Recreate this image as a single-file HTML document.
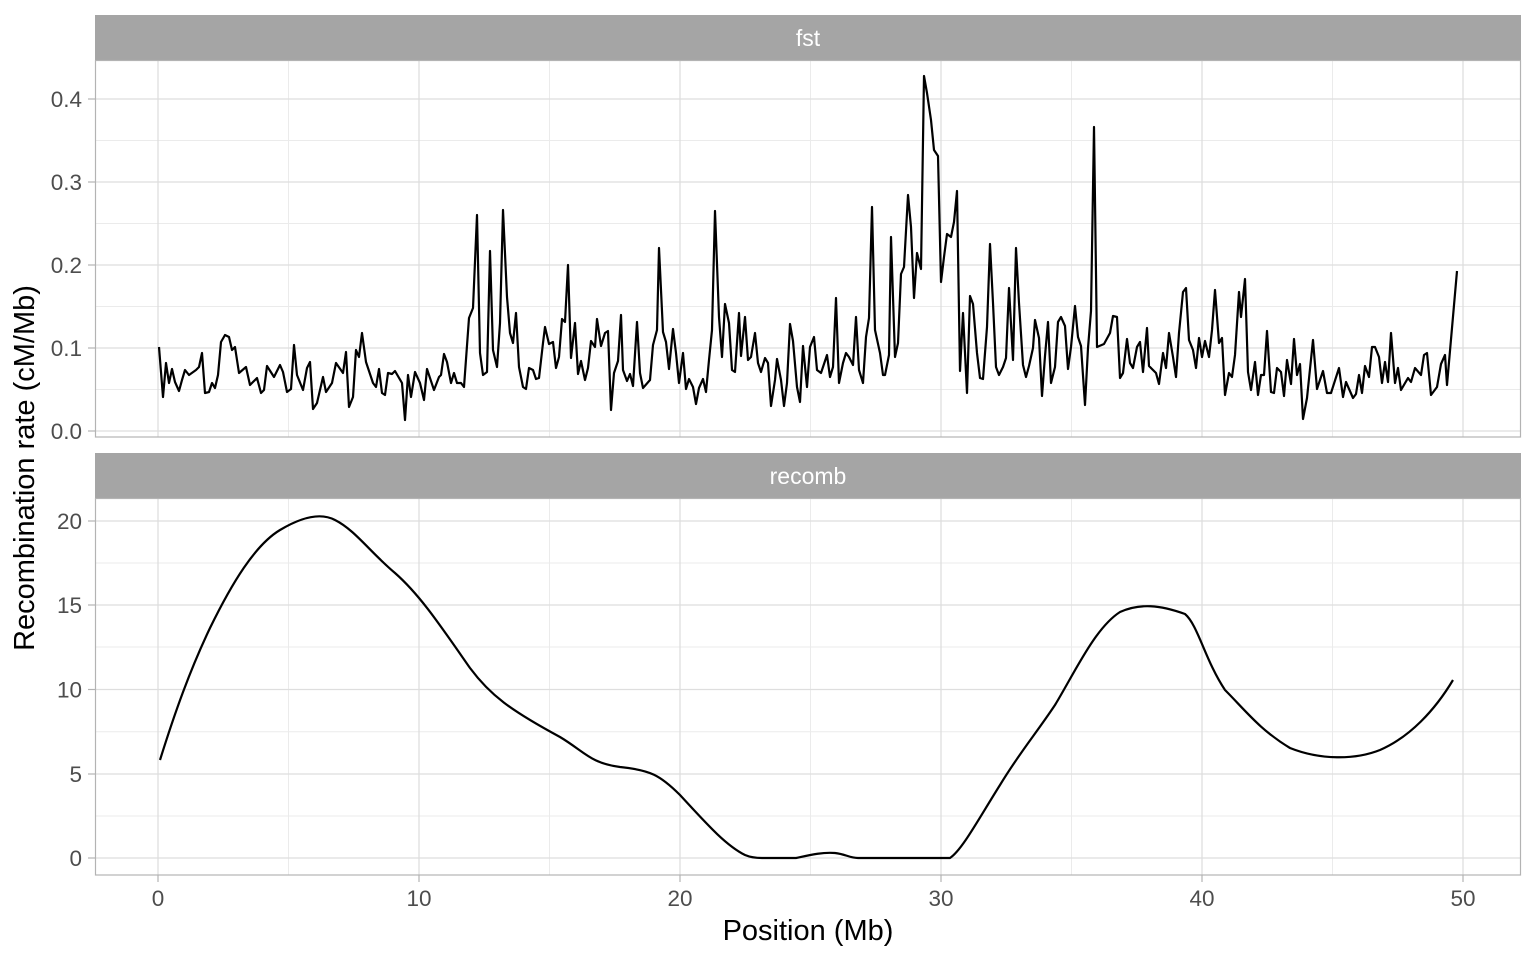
<!DOCTYPE html>
<html><head><style>html,body{margin:0;padding:0;background:#fff;}svg{display:block;font-family:"Liberation Sans",Arial,sans-serif;}</style></head>
<body>
<svg width="1536" height="960" viewBox="0 0 1536 960" xmlns="http://www.w3.org/2000/svg">
<rect width="1536" height="960" fill="#fff"/>
<rect x="95" y="15" width="1426" height="45" fill="#a5a5a5"/>
<text x="808" y="46" font-size="23" fill="#fff" text-anchor="middle">fst</text>
<rect x="95" y="453" width="1426" height="45" fill="#a5a5a5"/>
<text x="808" y="484" font-size="23" fill="#fff" text-anchor="middle">recomb</text>
<g stroke="#ebebeb" stroke-width="1">
<line x1="95" x2="1521" y1="389.5" y2="389.5"/><line x1="95" x2="1521" y1="306.5" y2="306.5"/><line x1="95" x2="1521" y1="223.5" y2="223.5"/><line x1="95" x2="1521" y1="140.5" y2="140.5"/>
<line y1="60" y2="437" x1="288.5" x2="288.5"/><line y1="60" y2="437" x1="549.5" x2="549.5"/><line y1="60" y2="437" x1="810.5" x2="810.5"/><line y1="60" y2="437" x1="1071.5" x2="1071.5"/><line y1="60" y2="437" x1="1332.5" x2="1332.5"/>
<line x1="95" x2="1521" y1="816" y2="816"/><line x1="95" x2="1521" y1="731.75" y2="731.75"/><line x1="95" x2="1521" y1="647" y2="647"/><line x1="95" x2="1521" y1="563" y2="563"/>
<line y1="498" y2="875" x1="288.5" x2="288.5"/><line y1="498" y2="875" x1="549.5" x2="549.5"/><line y1="498" y2="875" x1="810.5" x2="810.5"/><line y1="498" y2="875" x1="1071.5" x2="1071.5"/><line y1="498" y2="875" x1="1332.5" x2="1332.5"/>
</g>
<g stroke="#dedede" stroke-width="1.3">
<line x1="95" x2="1521" y1="431" y2="431"/><line x1="95" x2="1521" y1="348" y2="348"/><line x1="95" x2="1521" y1="265" y2="265"/><line x1="95" x2="1521" y1="182" y2="182"/><line x1="95" x2="1521" y1="99" y2="99"/>
<line y1="60" y2="437" x1="158" x2="158"/><line y1="60" y2="437" x1="419" x2="419"/><line y1="60" y2="437" x1="680" x2="680"/><line y1="60" y2="437" x1="941" x2="941"/><line y1="60" y2="437" x1="1202" x2="1202"/><line y1="60" y2="437" x1="1463" x2="1463"/>
<line x1="95" x2="1521" y1="858" y2="858"/><line x1="95" x2="1521" y1="774" y2="774"/><line x1="95" x2="1521" y1="689.5" y2="689.5"/><line x1="95" x2="1521" y1="605" y2="605"/><line x1="95" x2="1521" y1="521" y2="521"/>
<line y1="498" y2="875" x1="158" x2="158"/><line y1="498" y2="875" x1="419" x2="419"/><line y1="498" y2="875" x1="680" x2="680"/><line y1="498" y2="875" x1="941" x2="941"/><line y1="498" y2="875" x1="1202" x2="1202"/><line y1="498" y2="875" x1="1463" x2="1463"/>
</g>
<rect x="95.5" y="60.5" width="1425" height="376.5" fill="none" stroke="#b3b3b3" stroke-width="1.2"/>
<rect x="95.5" y="498.5" width="1425" height="376.5" fill="none" stroke="#b3b3b3" stroke-width="1.2"/>
<g stroke="#b3b3b3" stroke-width="1.2">
<line x1="88" x2="95" y1="431" y2="431"/><line x1="88" x2="95" y1="348" y2="348"/><line x1="88" x2="95" y1="265" y2="265"/><line x1="88" x2="95" y1="182" y2="182"/><line x1="88" x2="95" y1="99" y2="99"/>
<line x1="88" x2="95" y1="858" y2="858"/><line x1="88" x2="95" y1="774" y2="774"/><line x1="88" x2="95" y1="689.5" y2="689.5"/><line x1="88" x2="95" y1="605" y2="605"/><line x1="88" x2="95" y1="521" y2="521"/>
<line y1="875" y2="882" x1="158" x2="158"/><line y1="875" y2="882" x1="419" x2="419"/><line y1="875" y2="882" x1="680" x2="680"/><line y1="875" y2="882" x1="941" x2="941"/><line y1="875" y2="882" x1="1202" x2="1202"/><line y1="875" y2="882" x1="1463" x2="1463"/>
</g>
<g font-size="22.5" fill="#4d4d4d" text-anchor="end">
<text x="82" y="439">0.0</text><text x="82" y="356">0.1</text><text x="82" y="273">0.2</text><text x="82" y="190">0.3</text><text x="82" y="107">0.4</text>
<text x="82" y="866">0</text><text x="82" y="782">5</text><text x="82" y="697.5">10</text><text x="82" y="613">15</text><text x="82" y="529">20</text>
</g>
<g font-size="22.5" fill="#4d4d4d" text-anchor="middle">
<text x="158" y="906">0</text><text x="419" y="906">10</text><text x="680" y="906">20</text><text x="941" y="906">30</text><text x="1202" y="906">40</text><text x="1463" y="906">50</text>
</g>
<text x="808" y="940" font-size="29" fill="#000" text-anchor="middle">Position (Mb)</text>
<text transform="translate(34,468) rotate(-90)" font-size="29" fill="#000" text-anchor="middle">Recombination rate (cM/Mb)</text>
<polyline fill="none" stroke="#000" stroke-width="2.2" stroke-linejoin="round" points="159,347 163,397 166,363 169,383 172,369 175,382 179,391 182,380 185,370 189,375 196,370 199,367 202,353 205,393 209,392 212,383 215,388 218,375 221,342 225,335 229,337 232,350 235,347 239,373 246,367 250,385 257,378 261,393 264,390 267,366 274,377 280,365 283,372 287,392 291,389 294,345 297,375 303,390 307,368 310,362 313,409 317,403 323,377 326,392 332,383 336,363 343,373 346,352 349,407 353,397 356,350 359,357 362,333 366,362 373,383 376,387 379,369 382,393 385,395 388,373 392,374 395,371 402,383 405,420 408,375 411,397 415,372 420,383 424,400 427,369 434,390 439,377 441,375 444,354 447,362 451,383 454,373 457,383 461,383 464,387 469,318 473,308 477,215 480,353 483,375 487,372 490,251 493,350 497,367 500,323 503,210 507,297 510,333 513,343 516,313 519,367 523,387 526,389 529,368 533,370 536,379 539,378 543,343 545,327 549,344 553,342 556,368 559,357 562,319 565,322 568,265 571,358 575,323 578,374 581,361 585,380 588,368 591,341 595,347 597,319 601,346 605,333 608,331 611,410 614,373 618,361 621,315 623,370 627,381 630,374 633,386 637,322 640,373 643,388 650,380 653,345 657,330 659,248 663,332 666,342 669,369 673,329 676,353 679,383 683,353 686,389 689,379 693,387 696,404 699,388 703,379 706,392 709,360 712,330 715,211 719,317 722,357 725,304 729,323 732,370 735,372 739,313 741,356 745,317 748,360 751,357 755,333 758,363 761,372 765,358 768,363 771,406 775,380 777,359 781,380 784,406 787,383 790,324 793,341 797,387 800,402 803,346 807,387 810,347 814,337 817,370 821,373 823,367 827,355 830,377 833,367 836,298 839,383 843,363 846,353 849,357 853,365 856,317 859,370 863,383 866,337 869,318 872,207 875,330 880,353 883,375 885,375 889,355 891,237 895,357 898,343 901,274 904,267 908,195 911,227 914,298 917,253 921,269 924,76 927,93 931,120 934,150 938,156 941,282 944,257 947,234 951,237 954,222 957,191 960,371 963,313 967,393 970,296 973,304 977,353 980,378 983,379 987,327 990,244 993,303 996,367 999,375 1003,367 1006,358 1009,288 1013,360 1016,248 1019,303 1023,365 1026,377 1029,366 1033,348 1035,320 1039,338 1042,396 1045,356 1048,322 1051,383 1055,367 1058,322 1061,317 1065,326 1068,369 1071,347 1075,306 1078,337 1081,346 1085,405 1088,348 1091,311 1094,127 1097,347 1104,344 1110,333 1113,316 1117,317 1120,378 1123,373 1127,339 1130,363 1133,368 1137,347 1140,342 1143,372 1147,328 1149,366 1156,373 1159,384 1163,353 1166,368 1169,333 1173,357 1176,377 1179,333 1183,292 1186,288 1189,340 1193,350 1196,368 1199,338 1202,357 1205,341 1209,357 1212,330 1215,290 1219,343 1222,338 1225,395 1229,373 1232,377 1235,355 1239,292 1241,317 1245,279 1248,372 1251,390 1255,362 1258,395 1261,375 1264,375 1267,331 1271,392 1274,393 1277,368 1281,372 1284,396 1287,360 1291,384 1294,339 1297,375 1300,364 1303,419 1307,398 1313,340 1317,389 1323,371 1327,393 1331,393 1339,368 1343,397 1346,382 1353,398 1356,394 1359,375 1362,393 1365,366 1369,377 1372,347 1375,347 1379,357 1382,383 1385,362 1388,382 1391,333 1395,383 1398,368 1401,390 1408,378 1411,382 1415,368 1421,375 1424,355 1427,353 1431,395 1437,387 1441,364 1445,355 1447,385 1457,271"/>
<path fill="none" stroke="#000" stroke-width="2.2" stroke-linejoin="round" d="M160,760 C175,712 190,670 210,628 C232,583 255,545 280,530 C300,518 320,512 335,520 C355,530 370,552 395,573 C420,595 440,625 470,668 C490,695 510,710 560,737 C585,752 590,763 620,767 C650,770 660,775 680,795 C705,822 725,845 745,855 C752,858 758,858 762,858 L796,858 C810,855 822,852 835,853 C845,854 850,858 858,858 L950,858 C962,850 978,820 1000,785 C1020,752 1035,735 1055,705 C1075,672 1095,628 1120,612 C1140,603 1160,605 1185,614 C1198,625 1205,660 1225,690 C1245,710 1260,730 1290,748 C1320,760 1355,760 1380,750 C1410,737 1435,710 1453,680"/>
</svg>
</body></html>
